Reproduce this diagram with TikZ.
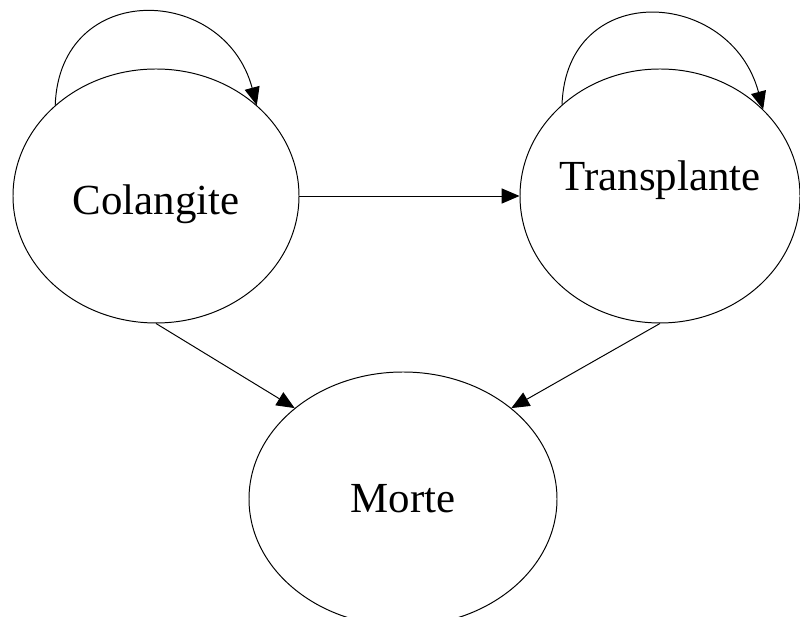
\documentclass[tikz,border=0pt]{standalone}
\usepackage{fontspec}
\setmainfont{Liberation Serif}
\usetikzlibrary{shapes.geometric, arrows.meta}

\tikzset{estado/.style={draw, ellipse, inner sep=0pt, minimum height=6.35cm}}

\begin{document}
\begin{tikzpicture}[node distance=12.6cm, line width=0.7pt,
        font=\fontsize{30.5}{36}\selectfont,
        >={Triangle[length=0.45cm,width=0.38cm]}]
        \useasboundingbox (-3.9,4.9) rectangle (16.1,-10.525);

        \node (colangite) [estado, minimum width=7.15cm,
            label={[yshift=-0.2cm]center:Colangite}] {};
        \node (transplante) [estado, right of=colangite, minimum width=7cm,
            label={[yshift=0.4cm]center:Transplante}] {};

        \node (morte) [estado, below of=colangite, node distance=7.575cm,
            xshift=6.175cm, minimum width=7.7cm] {Morte};

        \path[->]
            (colangite.138) edge [out=88, in=105, looseness=1.6] (colangite.42)
            (transplante.137) edge [out=88, in=105, looseness=1.6] (transplante.40)

            (colangite) edge (transplante)
            (colangite.south) edge (morte.140)
            (transplante.south) edge (morte.40)
        ;
    \end{tikzpicture}
\end{document}
